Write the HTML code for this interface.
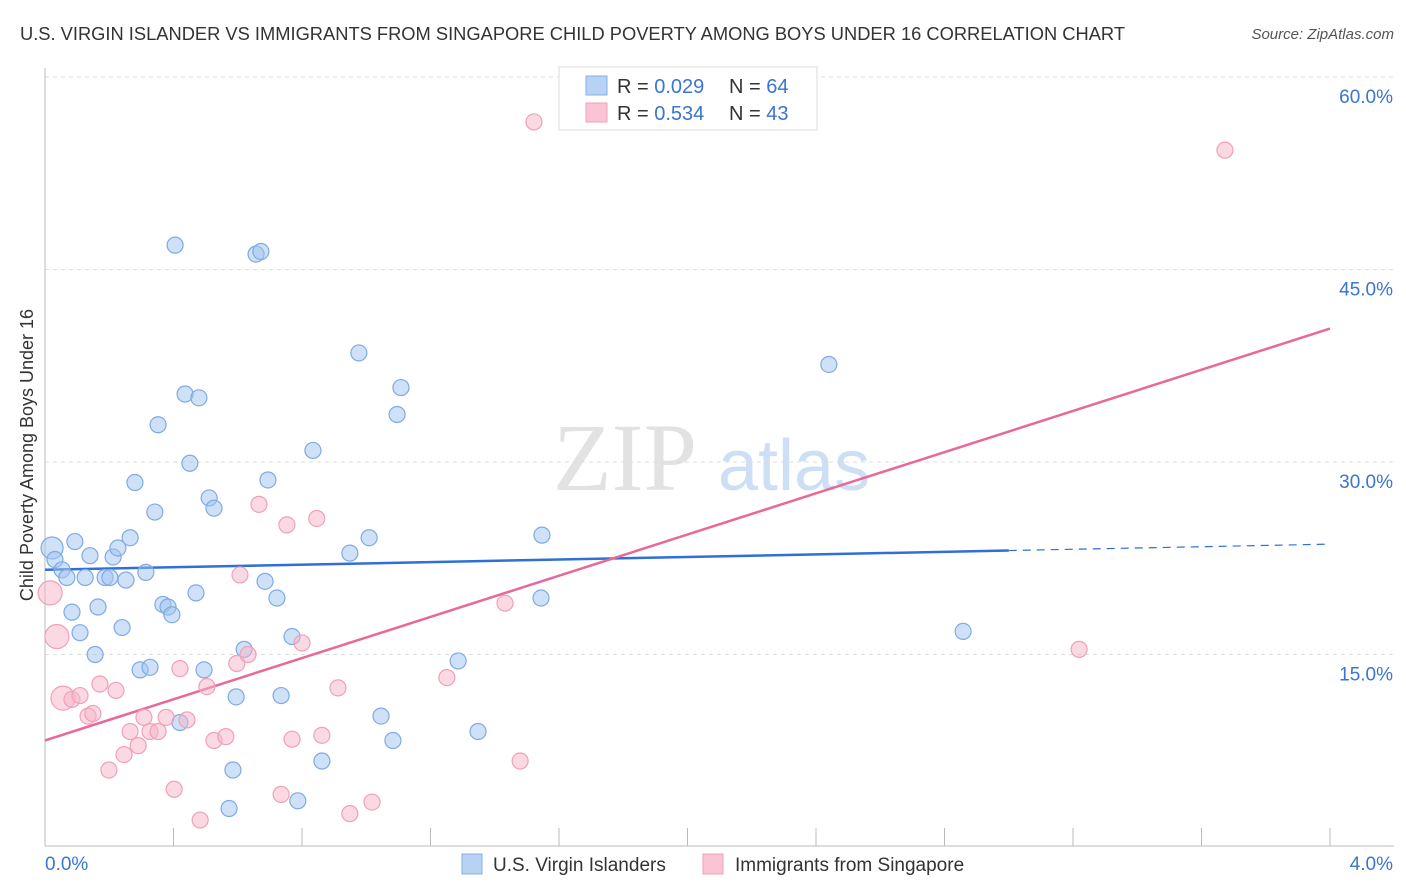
<!DOCTYPE html>
<html><head><meta charset="utf-8"><style>
body{margin:0;background:#fff;font-family:"Liberation Sans",sans-serif;}
svg{display:block}
</style></head><body>
<svg id="chart" width="1406" height="892">
<text x="20" y="40" font-size="18" fill="#333" textLength="1105" lengthAdjust="spacingAndGlyphs">U.S. VIRGIN ISLANDER VS IMMIGRANTS FROM SINGAPORE CHILD POVERTY AMONG BOYS UNDER 16 CORRELATION CHART</text>
<text x="1394" y="39" font-size="15" fill="#555" font-style="italic" text-anchor="end">Source: ZipAtlas.com</text>
<text x="33" y="455" font-size="18" fill="#333" text-anchor="middle" transform="rotate(-90 33 455)">Child Poverty Among Boys Under 16</text>
<g><text x="553" y="490" font-family="Liberation Serif,serif" font-size="96" fill="#e2e2e2">ZIP</text><text x="718" y="490" font-size="72" fill="#cddff4">atlas</text></g>
<g id="grid"></g><g id="axes"></g><g id="lines"></g><g id="pts"></g>
<g>
<rect x="559" y="67" width="258" height="63" fill="#fff" stroke="#ddd"/>
<rect x="586" y="76" width="21" height="19" fill="#b8d2f4" stroke="#86b0e6"/>
<rect x="586" y="103" width="21" height="19" fill="#fac4d4" stroke="#f0a0b8"/>
<text x="617" y="93" font-size="20" fill="#333">R = <tspan fill="#3a75d0">0.029</tspan></text>
<text x="729" y="93" font-size="20" fill="#333">N = <tspan fill="#3a75d0">64</tspan></text>
<text x="617" y="120" font-size="20" fill="#333">R = <tspan fill="#3a75d0">0.534</tspan></text>
<text x="729" y="120" font-size="20" fill="#333">N = <tspan fill="#3a75d0">43</tspan></text>
</g>
<g>
<rect x="462" y="854" width="20" height="20" fill="#b8d2f4" stroke="#86b0e6"/>
<text x="493" y="871" font-size="19" fill="#333">U.S. Virgin Islanders</text>
<rect x="703" y="854" width="20" height="20" fill="#fac4d4" stroke="#f0a0b8"/>
<text x="735" y="871" font-size="19" fill="#333">Immigrants from Singapore</text>
</g>
</svg>
<script>
const blueX=[0.022,0.031,0.053,0.068,0.093,0.084,0.109,0.125,0.140,0.156,0.165,0.187,0.202,0.212,0.227,0.240,0.252,0.265,0.280,0.296,0.314,0.327,0.342,0.352,0.367,0.383,0.395,0.405,0.420,0.436,0.451,0.470,0.479,0.495,0.511,0.526,0.585,0.573,0.595,0.620,0.657,0.672,0.685,0.694,0.722,0.735,0.769,0.787,0.834,0.862,0.949,0.977,1.009,1.046,1.083,1.096,1.108,1.286,1.348,1.544,1.547,2.440,2.858];
const blueY=[23.3,22.4,21.6,21.0,23.8,18.3,16.7,21.0,22.7,15.0,18.7,21.0,21.0,22.6,23.3,17.1,20.8,24.1,28.4,13.8,21.4,14.0,26.1,32.9,18.9,18.7,18.1,46.9,9.7,35.3,29.9,19.8,35.0,13.8,27.2,26.4,6.0,3.0,11.7,15.4,46.2,46.4,20.7,28.6,19.4,11.8,16.4,3.6,30.9,6.7,22.9,38.5,24.1,10.2,8.3,33.7,35.8,14.5,9.0,19.4,24.3,37.6,16.8];
const pinkX=[0.016,0.037,0.056,0.084,0.109,0.134,0.149,0.171,0.199,0.221,0.246,0.265,0.290,0.308,0.327,0.352,0.377,0.402,0.420,0.442,0.483,0.504,0.526,0.563,0.597,0.607,0.632,0.666,0.735,0.753,0.769,0.800,0.846,0.862,0.912,0.949,1.018,1.251,1.432,1.479,1.522,3.219,3.673];
const pinkY=[19.8,16.4,11.6,11.5,11.8,10.2,10.4,12.7,6.0,12.2,7.2,9.0,7.9,10.1,9.0,9.0,10.1,4.5,13.9,9.9,2.1,12.5,8.3,8.6,14.3,21.2,15.0,26.7,4.1,25.1,8.4,15.9,25.6,8.7,12.4,2.6,3.5,13.2,19.0,6.7,56.5,15.4,54.3];
const pinkBig=[1,1,1];
const blueTrendX=[0,3.0,4.0], blueTrendY=[21.6,23.1,23.6];
const pinkTrendX=[0,4.0], pinkTrendY=[8.3,40.4];
const yTicks=[15,30,45,60], yTickLabels=["15.0%","30.0%","45.0%","60.0%"];
const xEndLabels=["0.0%","4.0%"];
const NS="http://www.w3.org/2000/svg";
const sx=v=>45+v/4*1285, sy=v=>847-v/15*192.5;
function mk(tag,attrs,parent){const e=document.createElementNS(NS,tag);for(const k in attrs)e.setAttribute(k,attrs[k]);document.getElementById(parent).appendChild(e);return e;}
yTicks.forEach((t,i)=>{
 const g=mk('line',{x1:45,x2:1394,y1:sy(t),y2:sy(t),stroke:'#ddd','stroke-dasharray':'4,4'},'grid');
 
 
 const l=mk('text',{x:1393,y:sy(t)+26,'font-size':19,fill:'#3a75d0','text-anchor':'end'},'axes');l.textContent=yTickLabels[i];
 
 
});
mk('line',{x1:45,x2:45,y1:68,y2:846,stroke:'#bbb'},'axes');
mk('line',{x1:45,x2:1394,y1:846,y2:846,stroke:'#bbb'},'axes');
for(let i=1;i<=10;i++){mk('line',{x1:sx(i*0.4),x2:sx(i*0.4),y1:828,y2:846,stroke:'#bbb'},'axes');}
const xl0=mk('text',{x:45,y:870,'font-size':19,fill:'#3a75d0'},'axes');xl0.textContent=xEndLabels[0];


const xl1=mk('text',{x:1393,y:870,'font-size':19,fill:'#3a75d0','text-anchor':'end'},'axes');xl1.textContent=xEndLabels[1];


blueX.forEach((x,i)=>{const c=mk('circle',{cx:sx(x),cy:sy(blueY[i]),r:i<1?11:8,fill:'rgba(160,195,240,0.5)',stroke:'#7eaae6','stroke-width':1.2},'pts');
 
 });
pinkX.forEach((x,i)=>{const c=mk('circle',{cx:sx(x),cy:sy(pinkY[i]),r:pinkBig[i]?12:8,fill:'rgba(248,180,200,0.5)',stroke:'#f0a0b8','stroke-width':1.2},'pts');
 
 });
const b1=mk('line',{x1:sx(blueTrendX[0]),y1:sy(blueTrendY[0]),x2:sx(blueTrendX[1]),y2:sy(blueTrendY[1]),stroke:'#2f6fd6','stroke-width':2.5},'lines');


const b2=mk('line',{x1:sx(blueTrendX[1]),y1:sy(blueTrendY[1]),x2:sx(blueTrendX[2]),y2:sy(blueTrendY[2]),stroke:'#2f6fd6','stroke-width':1.2,'stroke-dasharray':'8,6'},'lines');


const p1=mk('line',{x1:sx(pinkTrendX[0]),y1:sy(pinkTrendY[0]),x2:sx(pinkTrendX[1]),y2:sy(pinkTrendY[1]),stroke:'#e8689a','stroke-width':2.5},'lines');


</script>
</body></html>
